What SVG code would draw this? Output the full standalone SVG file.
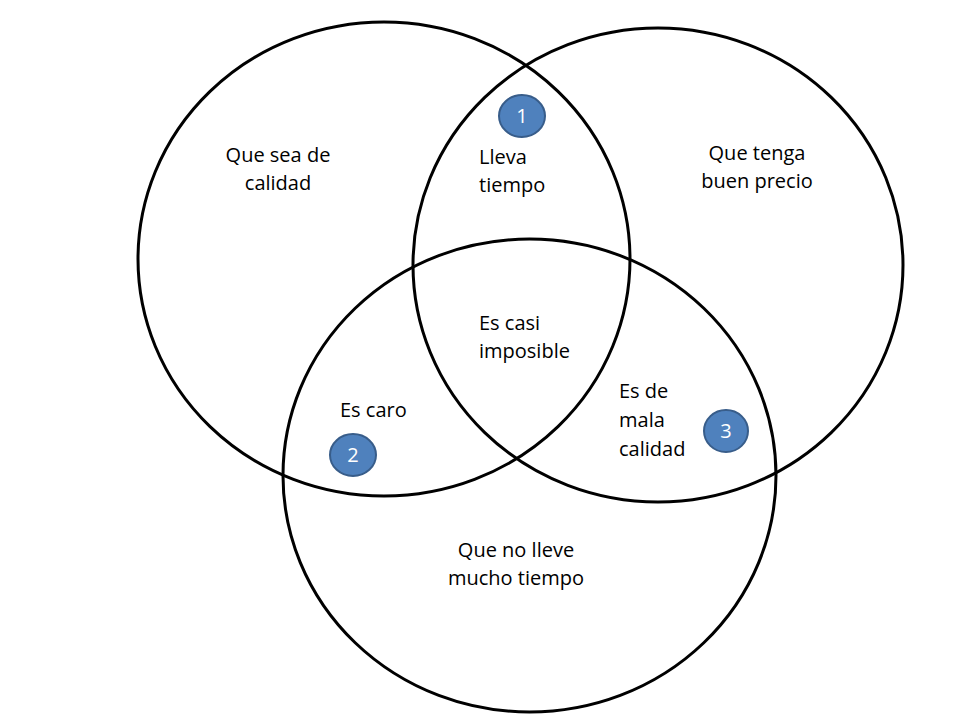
<svg xmlns="http://www.w3.org/2000/svg" width="960" height="720" viewBox="0 0 960 720">
<style>
.set{fill:none;stroke:#000;stroke-width:3}
.lbl{font-family:"Open Sans","Liberation Sans",sans-serif;font-size:20px;fill:#000}
.mid{text-anchor:middle}
.badge{fill:#4F81BD;stroke:#385D8A;stroke-width:2}
.num{font-family:"Open Sans","Liberation Sans",sans-serif;font-size:20px;fill:#fff;text-anchor:middle}
</style>
<rect width="960" height="720" fill="#fff"/>
<g id="sets">
<ellipse id="set-calidad" class="set" cx="384" cy="259" rx="246" ry="237"/>
<ellipse id="set-precio" class="set" cx="658" cy="265" rx="245" ry="237"/>
<ellipse id="set-tiempo" class="set" cx="529.5" cy="475.5" rx="246.5" ry="236.5"/>
</g>
<g id="labels">
<text class="lbl mid" x="278" y="162">Que sea de</text>
<text class="lbl mid" x="278" y="190">calidad</text>
<text class="lbl" x="479" y="164">Lleva</text>
<text class="lbl" x="479" y="192">tiempo</text>
<text class="lbl mid" x="757" y="160">Que tenga</text>
<text class="lbl mid" x="757" y="188">buen precio</text>
<text class="lbl" x="479" y="330">Es casi</text>
<text class="lbl" x="479" y="358">imposible</text>
<text class="lbl" x="340" y="417">Es caro</text>
<text class="lbl" x="619" y="398">Es de</text>
<text class="lbl" x="619" y="427">mala</text>
<text class="lbl" x="619" y="456">calidad</text>
<text class="lbl mid" x="516" y="557">Que no lleve</text>
<text class="lbl mid" x="516" y="585">mucho tiempo</text>
</g>
<g id="badge1">
<ellipse class="badge" cx="522" cy="116" rx="23" ry="21"/>
<text class="num" x="522" y="123">1</text>
</g>
<g id="badge2">
<ellipse class="badge" cx="353" cy="455" rx="23" ry="21"/>
<text class="num" x="353" y="462">2</text>
</g>
<g id="badge3">
<ellipse class="badge" cx="726" cy="431" rx="22" ry="21"/>
<text class="num" x="726" y="438">3</text>
</g>
</svg>
